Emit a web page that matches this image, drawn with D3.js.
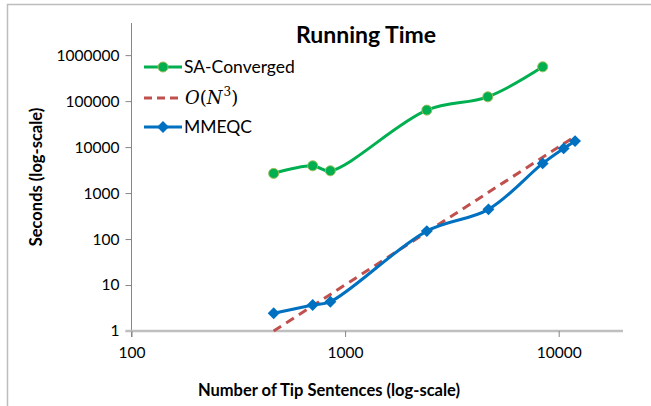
<!DOCTYPE html>
<html>
<head>
<meta charset="utf-8">
<script src="https://cdn.jsdelivr.net/npm/d3@7"></script>
<style>
  body { margin: 0; background: #fff; }
  svg { display: block; font-family: Lato, "Open Sans", sans-serif; }
</style>
</head>
<body>
<script>
// ---------------------- DATA ----------------------
const xTicks = [100, 1000, 10000];
const yTicks = [1, 10, 100, 1000, 10000, 100000, 1000000];

const saN = [463, 705, 853, 2413, 4656, 8414];
const saSeconds = [2680, 3920, 3050, 63700, 124000, 557000];

const mmN = [463, 705, 853, 2413, 4690, 8414, 10550, 11930];
const mmSeconds = [2.43, 3.67, 4.34, 149, 442, 4420, 9370, 13500];

const cubeN = [463, 705, 853, 2413, 4690, 8414, 10550, 11930];
const cubeSeconds = [1, 3.53, 6.25, 141.6, 1039, 6000, 11830, 17100];

// ---------------------- SETUP ----------------------
const width = 651, height = 406;
const svg = d3.select("body").append("svg")
    .attr("width", width)
    .attr("height", height);

// chart frame (runs off the right/bottom edge like the source)
svg.append("rect")
    .attr("x", 7.5).attr("y", 4.5)
    .attr("width", 700).attr("height", 500)
    .attr("fill", "none")
    .attr("stroke", "#bdbdbd")
    .attr("stroke-width", 1.5);

const x = d3.scaleLog().domain([100, 20000]).range([131.5, 623]);
const y = d3.scaleLog().domain([1, 5e6]).range([331, 23]);

// ---------------------- AXES ----------------------
const yAxis = svg.append("g")
    .attr("transform", `translate(${x(100)},0)`)
    .call(d3.axisLeft(y).tickValues(yTicks).tickFormat(d3.format("d")).tickSize(6).tickPadding(6));
yAxis.select(".domain").attr("stroke", "#868686").attr("d", `M0,${y(1) + 6}V${23}`);
yAxis.selectAll(".tick line").attr("stroke", "#868686");
yAxis.selectAll(".tick text")
    .attr("font-size", 15.5)
    .attr("fill", "#000")
    .attr("font-family", "Lato, sans-serif");

const xAxis = svg.append("g")
    .attr("transform", `translate(0,${y(1)})`)
    .call(d3.axisBottom(x).tickValues(xTicks).tickFormat(d3.format("d")).tickSize(6).tickPadding(10));
xAxis.select(".domain").attr("stroke", "#bfbfbf").attr("stroke-width", 2.5)
    .attr("d", `M${x(100) - 6},0H${x(20000)}`);
xAxis.selectAll(".tick line").attr("stroke", "#868686");
xAxis.selectAll(".tick text")
    .attr("font-size", 15.5)
    .attr("fill", "#000")
    .attr("font-family", "Lato, sans-serif");

// ---------------------- TITLES ----------------------
svg.append("text")
    .attr("x", 366).attr("y", 43)
    .attr("text-anchor", "middle")
    .attr("font-size", 23)
    .attr("font-weight", "bold")
    .text("Running Time");

svg.append("text")
    .attr("transform", "translate(42,177) rotate(-90)")
    .attr("text-anchor", "middle")
    .attr("font-size", 16.5)
    .attr("font-weight", "bold")
    .text("Seconds (log-scale)");

svg.append("text")
    .attr("x", 329).attr("y", 396)
    .attr("text-anchor", "middle")
    .attr("font-size", 16.5)
    .attr("font-weight", "bold")
    .text("Number of Tip Sentences (log-scale)");

// ---------------------- SERIES ----------------------
const line = d3.line()
    .x(d => x(d[0]))
    .y(d => y(d[1]))
    .curve(d3.curveCatmullRom.alpha(0.5));

const green = "#00b050", blue = "#0070c0", red = "#c0504d";

const cubeData = d3.zip(cubeN, cubeSeconds);
svg.append("path")
    .attr("d", line(cubeData))
    .attr("fill", "none")
    .attr("stroke", red)
    .attr("stroke-width", 3)
    .attr("stroke-dasharray", "9,6");

const saData = d3.zip(saN, saSeconds);
svg.append("path")
    .attr("d", line(saData))
    .attr("fill", "none")
    .attr("stroke", green)
    .attr("stroke-width", 3);
svg.selectAll(".sa-dot")
    .data(saData)
    .enter().append("circle")
    .attr("class", "sa-dot")
    .attr("cx", d => x(d[0]))
    .attr("cy", d => y(d[1]))
    .attr("r", 5)
    .attr("fill", green)
    .attr("stroke", "#9bbb59")
    .attr("stroke-width", 1);

const mmData = d3.zip(mmN, mmSeconds);
svg.append("path")
    .attr("d", line(mmData))
    .attr("fill", "none")
    .attr("stroke", blue)
    .attr("stroke-width", 3);
const diamond = d3.symbol().type(d3.symbolDiamond2).size(90);
svg.selectAll(".mm-dot")
    .data(mmData)
    .enter().append("path")
    .attr("class", "mm-dot")
    .attr("d", diamond)
    .attr("transform", d => `translate(${x(d[0])},${y(d[1])})`)
    .attr("fill", blue);

// ---------------------- LEGEND ----------------------
const legend = svg.append("g").attr("transform", "translate(144,0)");

legend.append("line").attr("x1", 0).attr("x2", 38).attr("y1", 67).attr("y2", 67)
    .attr("stroke", green).attr("stroke-width", 3);
legend.append("circle").attr("cx", 19).attr("cy", 67).attr("r", 5)
    .attr("fill", green).attr("stroke", "#9bbb59");
legend.append("text").attr("x", 40).attr("y", 73)
    .attr("font-size", 17.5).text("SA-Converged");

legend.append("line").attr("x1", 0).attr("x2", 38).attr("y1", 98).attr("y2", 98)
    .attr("stroke", red).attr("stroke-width", 3).attr("stroke-dasharray", "8,5");
const oText = legend.append("text").attr("x", 41).attr("y", 104)
    .attr("font-size", 18).attr("font-family", "'DejaVu Serif', serif");
oText.append("tspan").attr("font-style", "italic").text("O");
oText.append("tspan").text("(");
oText.append("tspan").attr("font-style", "italic").text("N");
oText.append("tspan").attr("font-size", 12).attr("dy", -8).attr("dx", 1).text("3");
oText.append("tspan").attr("dy", 8).text(")");

legend.append("line").attr("x1", 0).attr("x2", 38).attr("y1", 127).attr("y2", 127)
    .attr("stroke", blue).attr("stroke-width", 3);
legend.append("path").attr("d", diamond)
    .attr("transform", "translate(19,127)").attr("fill", blue);
legend.append("text").attr("x", 40).attr("y", 133)
    .attr("font-size", 17.5).text("MMEQC");
</script>
</body>
</html>
